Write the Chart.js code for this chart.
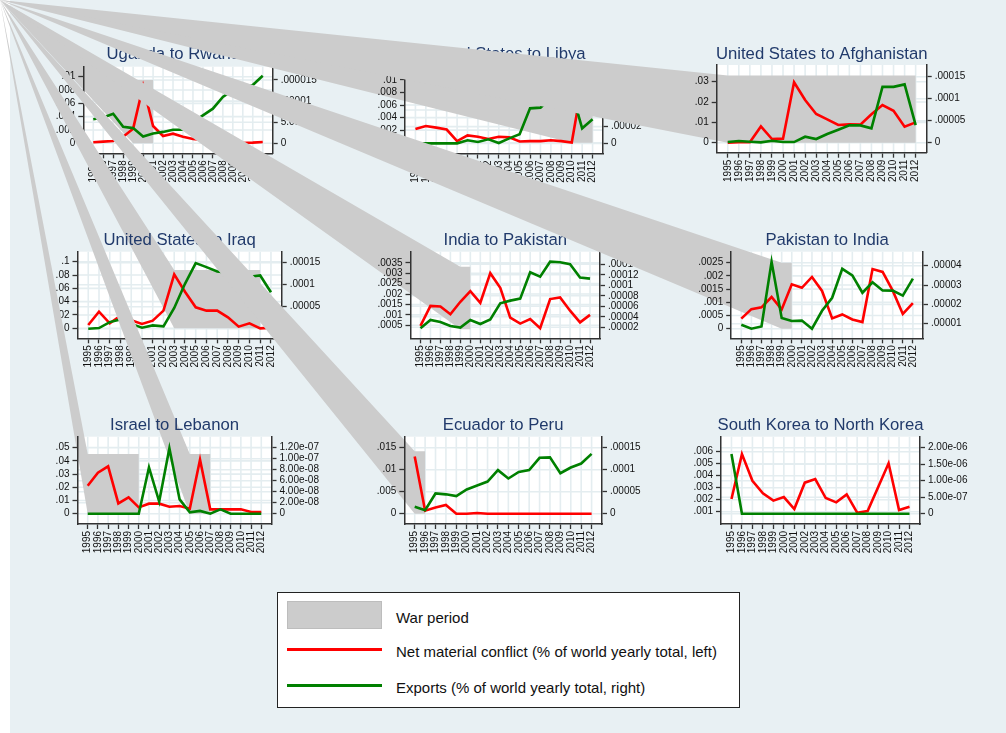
<!DOCTYPE html>
<html>
<head>
<meta charset="utf-8">
<script src="https://cdn.jsdelivr.net/npm/chart.js@4.4.0/dist/chart.umd.min.js"></script>
<style>
    html, body { margin: 0; padding: 0; overflow: hidden; background: #fff; width: 1006px; height: 733px; }
    #fundo { position: absolute; left: 10px; top: 0; width: 996px; height: 733px; background: #e8f0f3; }
    canvas { position: absolute; left: 0; top: 0; }
    #legenda { position: absolute; left: 277px; top: 592px; width: 463px; height: 116px; box-sizing: border-box;
               background: #fff; border: 1px solid #222; z-index: 20;
               font: 15px "Liberation Sans", Arial, sans-serif; color: #111; }
    .amostra { position: absolute; left: 9px; width: 95px; }
    .rotulo { position: absolute; left: 118px; transform: translateY(-50%); white-space: nowrap; }
</style>
</head>
<body>
<div id="fundo"></div>
<div id="legenda">
    <div class="amostra" style="top:8px;height:28px;background:#cccccc;border:1px solid #bdbdbd;box-sizing:border-box;"></div>
    <div class="rotulo" style="top:24px;">War period</div>
    <div class="amostra" style="top:55px;height:3px;background:#ff0000;"></div>
    <div class="rotulo" style="top:58px;">Net material conflict (% of world yearly total, left)</div>
    <div class="amostra" style="top:91px;height:3px;background:#008000;"></div>
    <div class="rotulo" style="top:94px;">Exports (% of world yearly total, right)</div>
</div>
<script>
// --- DADOS ---
const anos = [1995, 1996, 1997, 1998, 1999, 2000, 2001, 2002, 2003, 2004, 2005, 2006, 2007, 2008, 2009, 2010, 2011, 2012];

const titulos = ['Uganda to Rwanda', 'United States to Libya', 'United States to Afghanistan',
                 'United States to Iraq', 'India to Pakistan', 'Pakistan to India',
                 'Israel to Lebanon', 'Ecuador to Peru', 'South Korea to North Korea'];

// conflito material líquido (eixo esquerdo)
const conflitoUganda = [0.00015, 0.00025, 0.00035, 0.001, 0.0022, 0.0086, 0.0026, 0.0011, 0.00145, 0.001, 0.00065, 0.0005, 0.0003, 0.0002, 0.0001, 0.00005, 0.0001, 0.0002];
const conflitoLibia = [0.00217, 0.00265, 0.0024, 0.0021, 0.00026, 0.00116, 0.00095, 0.0006, 0.00095, 0.00085, 0.0002, 0.00026, 0.00026, 0.0004, 0.00026, 0.00005, 0.0095, 0.0056];
const conflitoAfeg = [0, 0.0002, 0.0002, 0.008, 0.0018, 0.002, 0.0297, 0.021, 0.0141, 0.0115, 0.0087, 0.009, 0.0089, 0.014, 0.0185, 0.0157, 0.0079, 0.01];
const conflitoIraque = [0.005, 0.025, 0.0075, 0.019, 0.012, 0.0065, 0.0115, 0.0265, 0.081, 0.055, 0.0315, 0.0265, 0.0265, 0.0165, 0.0025, 0.0075, 0, 0.001];
const conflitoIndPak = [0.00047, 0.00143, 0.0014, 0.00103, 0.00163, 0.00214, 0.00158, 0.003, 0.0023, 0.00087, 0.00058, 0.0008, 0.00036, 0.00176, 0.00184, 0.0012, 0.00064, 0.001];
const conflitoPakInd = [0.00038, 0.00074, 0.00081, 0.0012, 0.00073, 0.00168, 0.00155, 0.00196, 0.00143, 0.00039, 0.00054, 0.00035, 0.00025, 0.00226, 0.00215, 0.00144, 0.00056, 0.00097];
const conflitoIsrael = [0.0212, 0.031, 0.0359, 0.0078, 0.0124, 0.0048, 0.0076, 0.0076, 0.0053, 0.0058, 0.0038, 0.0409, 0.0033, 0.0033, 0.0033, 0.0033, 0.0013, 0.0013];
const conflitoEquador = [0.013, 0.0007, 0.0014, 0.002, 0, 0, 0.00015, 0, 0, 0, 0, 0, 0, 0, 0, 0, 0, 0];
const conflitoCoreia = [0.00206, 0.0058, 0.00358, 0.00253, 0.00192, 0.00222, 0.00122, 0.00342, 0.00372, 0.00214, 0.00178, 0.00244, 0.00092, 0.00106, 0.00303, 0.00503, 0.00114, 0.00142];

// exportações (eixo direito)
const exportUganda = [5.7e-6, 6.1e-6, 7.0e-6, 3.9e-6, 3.6e-6, 1.6e-6, 2.3e-6, 2.7e-6, 3.2e-6, 3.2e-6, 5.0e-6, 6.6e-6, 8.2e-6, 11.0e-6, 12.6e-6, 13.0e-6, 13.8e-6, 16.0e-6];
const exportLibia = [0, 0, 0, 0, 0, 3.6e-6, 1.6e-6, 4.8e-6, 0.4e-6, 6e-6, 10.8e-6, 42e-6, 42.8e-6, 54e-6, 68e-6, 62e-6, 18e-6, 28.8e-6];
const exportAfeg = [1.5e-6, 3.8e-6, 2.3e-6, 0.8e-6, 4.5e-6, 1.5e-6, 1.5e-6, 13.6e-6, 8.3e-6, 19.7e-6, 29.5e-6, 39.4e-6, 39.4e-6, 32.6e-6, 127e-6, 127e-6, 132.6e-6, 40e-6];
const exportIraque = [0, 1.5e-6, 15e-6, 21e-6, 11e-6, 2.3e-6, 7.6e-6, 5.3e-6, 47e-6, 102e-6, 149e-6, 140e-6, 130e-6, 127e-6, 122e-6, 118e-6, 121e-6, 83e-6];
const exportIndPak = [1.8e-5, 3.4e-5, 3.0e-5, 2.25e-5, 1.94e-5, 3.4e-5, 2.63e-5, 3.5e-5, 6.57e-5, 7.08e-5, 7.46e-5, 12.48e-5, 11.65e-5, 14.5e-5, 14.38e-5, 14e-5, 11.5e-5, 11.27e-5];
const exportPakInd = [9.5e-6, 7.4e-6, 8.6e-6, 42e-6, 12.9e-6, 11.4e-6, 11.6e-6, 7.4e-6, 16.7e-6, 23.4e-6, 38.4e-6, 35e-6, 26e-6, 31.4e-6, 27.2e-6, 27.1e-6, 24.5e-6, 33.3e-6];
const exportIsrael = [0, 0, 0, 0, 0, 0, 8.4e-8, 2.2e-8, 11.9e-8, 2.6e-8, 0.24e-8, 0.5e-8, 0, 0.8e-8, 0, 0, 0, 0];
const exportEquador = [1.6e-5, 0.8e-5, 4.6e-5, 4.4e-5, 4.0e-5, 5.5e-5, 6.4e-5, 7.3e-5, 9.9e-5, 8.0e-5, 9.5e-5, 9.9e-5, 12.7e-5, 12.8e-5, 9.2e-5, 10.5e-5, 11.4e-5, 13.6e-5];
const exportCoreia = [1.81e-6, 0, 0, 0, 0, 0, 0, 0, 0, 0, 0, 0, 0, 0, 0, 0, 0, 0];

// períodos de guerra [início, fim] e altura da faixa (topo / base no eixo esquerdo)
const guerras = [[[1999, 2001]], [[2010, 2012]], [[1995, 2012]],
                 [[2003, 2011]], [[1999, 2000]], [[1999, 2000]],
                 [[1995, 2000], [2005, 2007]], [[1995, 1996]], []];
const topoGuerra = [0.0095, 0.01045, 0.033, 0.0875, 0.00331, 0.0025, 0.0452, 0.0142, 0];
const baseGuerra = [0, 0, 0, 0, 0.00031, 0, 0, 0, 0];

// marcas dos eixos
const ticksEsq = [
    [0, 0.002, 0.004, 0.006, 0.008, 0.01], [0, 0.002, 0.004, 0.006, 0.008, 0.01], [0, 0.01, 0.02, 0.03],
    [0, 0.02, 0.04, 0.06, 0.08, 0.1], [0.0005, 0.001, 0.0015, 0.002, 0.0025, 0.003, 0.0035], [0, 0.0005, 0.001, 0.0015, 0.002, 0.0025],
    [0, 0.01, 0.02, 0.03, 0.04, 0.05], [0, 0.005, 0.01, 0.015], [0.001, 0.002, 0.003, 0.004, 0.005, 0.006]];
const rotulosEsq = [
    ['0', '.002', '.004', '.006', '.008', '.01'], ['0', '.002', '.004', '.006', '.008', '.01'], ['0', '.01', '.02', '.03'],
    ['0', '.02', '.04', '.06', '.08', '.1'], ['.0005', '.001', '.0015', '.002', '.0025', '.003', '.0035'], ['0', '.0005', '.001', '.0015', '.002', '.0025'],
    ['0', '.01', '.02', '.03', '.04', '.05'], ['0', '.005', '.01', '.015'], ['.001', '.002', '.003', '.004', '.005', '.006']];
const ticksDir = [
    [0, 5e-6, 1e-5, 1.5e-5], [0, 2e-5, 4e-5, 6e-5, 8e-5], [0, 5e-5, 1e-4, 1.5e-4],
    [0, 5e-5, 1e-4, 1.5e-4], [2e-5, 4e-5, 6e-5, 8e-5, 1e-4, 1.2e-4, 1.4e-4], [1e-5, 2e-5, 3e-5, 4e-5],
    [0, 2e-8, 4e-8, 6e-8, 8e-8, 1e-7, 1.2e-7], [0, 5e-5, 1e-4, 1.5e-4], [0, 5e-7, 1e-6, 1.5e-6, 2e-6]];
const rotulosDir = [
    ['0', '5.0e-06', '.00001', '.000015'], ['0', '.00002', '.00004', '.00006', '.00008'], ['0', '.00005', '.0001', '.00015'],
    ['0', '.00005', '.0001', '.00015'], ['.00002', '.00004', '.00006', '.00008', '.0001', '.00012', '.00014'], ['.00001', '.00002', '.00003', '.00004'],
    ['0', '2.00e-08', '4.00e-08', '6.00e-08', '8.00e-08', '1.00e-07', '1.20e-07'], ['0', '.00005', '.0001', '.00015'], ['0', '5.00e-07', '1.00e-06', '1.50e-06', '2.00e-06']];

const conflitos = [conflitoUganda, conflitoLibia, conflitoAfeg, conflitoIraque, conflitoIndPak, conflitoPakInd, conflitoIsrael, conflitoEquador, conflitoCoreia];
const exportacoes = [exportUganda, exportLibia, exportAfeg, exportIraque, exportIndPak, exportPakInd, exportIsrael, exportEquador, exportCoreia];

// --- LAYOUT (posição de cada painel na página) ---
const LARG = 1006, ALT = 733;
const LARG_ESQ = 50, LARG_DIR = 70, ALT_X = 40;
const caixas = [
    { L: 83.3, R: 272.7, T: 66.7, B: 153.3, tY: 54.5 },
    { L: 405, R: 603, T: 73.5, B: 153.5, tY: 54.5 },
    { L: 716.7, R: 926.7, T: 65, B: 152.7, tY: 54.5 },
    { L: 77.5, R: 281.7, T: 251.7, B: 338.3, tY: 240 },
    { L: 410.5, R: 600, T: 251.7, B: 338.3, tY: 240 },
    { L: 731.2, R: 923, T: 251.7, B: 338.3, tY: 240 },
    { L: 77.5, R: 271.5, T: 436.7, B: 524, tY: 425.7 },
    { L: 404.3, R: 602, T: 436.7, B: 524, tY: 425.7 },
    { L: 721, R: 920, T: 436.7, B: 524, tY: 425.7 }];
const limites = [
    { y: [-0.0015, 0.0115], y1: [-2.37e-6, 1.815e-5] },
    { y: [-0.00171, 0.01101], y1: [-1.22e-5, 8.38e-5] },
    { y: [-0.00492, 0.0382], y1: [-2.27e-5, 1.766e-4] },
    { y: [-0.015, 0.115], y1: [-2.18e-5, 1.75e-4] },
    { y: [-0.000123, 0.00403], y1: [-0.95e-6, 1.64e-4] },
    { y: [-0.000364, 0.002917], y1: [2.45e-6, 4.724e-5] },
    { y: [-0.0078, 0.0583], y1: [-1.873e-8, 1.4e-7] },
    { y: [-0.00234, 0.0175], y1: [-2.34e-5, 1.75e-4] },
    { y: [-0.000025, 0.00725], y1: [-3.12e-7, 2.333e-6] }];

Chart.defaults.font.family = '"Liberation Sans", Arial, sans-serif';
Chart.defaults.font.size = 10;
Chart.defaults.color = '#111';

// fundo branco, grade, faixa de guerra (com o vértice no canto da figura) e título
const pluginPainel = {
    id: 'painel',
    beforeDraw(chart, args, opts) {
        const { ctx, chartArea: a, scales } = chart;
        ctx.save();
        ctx.fillStyle = '#fff';
        ctx.fillRect(a.left, a.top, a.right - a.left, a.bottom - a.top);
        ctx.strokeStyle = '#e4edf0';
        ctx.lineWidth = 1.6;
        ctx.beginPath();
        scales.x.ticks.forEach(t => {
            const px = scales.x.getPixelForValue(t.value);
            ctx.moveTo(px, a.top); ctx.lineTo(px, a.bottom);
        });
        [scales.y, scales.y1].forEach(s => s.ticks.forEach(t => {
            const py = s.getPixelForValue(t.value);
            ctx.moveTo(a.left, py); ctx.lineTo(a.right, py);
        }));
        ctx.stroke();

        ctx.fillStyle = '#cccccc';
        opts.guerras.forEach(([ini, fim]) => {
            const x0 = scales.x.getPixelForValue(ini);
            const x1 = scales.x.getPixelForValue(fim);
            const yt = scales.y.getPixelForValue(opts.topo);
            const yb = scales.y.getPixelForValue(opts.base);
            ctx.beginPath();
            ctx.moveTo(0, 0);
            ctx.lineTo(x0, yt);
            ctx.lineTo(x1, yt);
            ctx.lineTo(x1, yb);
            ctx.lineTo(x0, yb);
            ctx.closePath();
            ctx.fill();
        });
        ctx.restore();
    },
    beforeDatasetsDraw(chart, args, opts) {
        const { ctx, chartArea: a } = chart;
        ctx.save();
        ctx.font = '16.7px "Liberation Sans", Arial, sans-serif';
        ctx.fillStyle = '#213a6b';
        ctx.textAlign = 'center';
        ctx.textBaseline = 'middle';
        ctx.fillText(opts.titulo, (a.left + a.right) / 2, opts.tituloY);
        ctx.restore();
    }
};

function eixoY(pos, lim, ticks, rotulos, largura) {
    return {
        type: 'linear', position: pos, min: lim[0], max: lim[1],
        afterBuildTicks: s => { s.ticks = ticks.map(v => ({ value: v })); },
        afterFit: s => { s.width = largura; },
        ticks: { callback: (v, i) => rotulos[i], padding: 3, autoSkip: false },
        grid: { drawOnChartArea: false, tickLength: 5, tickColor: '#333', tickWidth: 1.3 },
        border: { color: '#333', width: 1.5 }
    };
}

function criarPainel(i) {
    const cv = document.createElement('canvas');
    cv.width = LARG; cv.height = ALT;
    cv.style.zIndex = i + 1;
    document.body.appendChild(cv);
    const c = caixas[i];

    new Chart(cv.getContext('2d'), {
        type: 'line',
        data: {
            datasets: [{
                label: 'Exports',
                data: anos.map((a, k) => ({ x: a, y: exportacoes[i][k] })),
                yAxisID: 'y1', borderColor: '#008000', borderWidth: 2.6,
                pointRadius: 0, tension: 0, fill: false
            }, {
                label: 'Net material conflict',
                data: anos.map((a, k) => ({ x: a, y: conflitos[i][k] })),
                yAxisID: 'y', borderColor: '#ff0000', borderWidth: 2.6,
                pointRadius: 0, tension: 0, fill: false
            }]
        },
        options: {
            responsive: false, animation: false, events: [],
            layout: { padding: { left: c.L - LARG_ESQ, right: LARG - c.R - LARG_DIR, top: c.T, bottom: ALT - c.B - ALT_X } },
            plugins: {
                legend: { display: false },
                tooltip: { enabled: false },
                painel: { titulo: titulos[i], tituloY: c.tY, guerras: guerras[i], topo: topoGuerra[i], base: baseGuerra[i] }
            },
            scales: {
                x: {
                    type: 'linear', min: 1994, max: 2013,
                    afterBuildTicks: s => { s.ticks = anos.map(v => ({ value: v })); },
                    afterFit: s => { s.height = ALT_X; },
                    ticks: { callback: v => String(v), minRotation: 90, maxRotation: 90, autoSkip: false, padding: 2 },
                    grid: { drawOnChartArea: false, tickLength: 5, tickColor: '#333', tickWidth: 1.3 },
                    border: { color: '#333', width: 1.5 }
                },
                y: eixoY('left', limites[i].y, ticksEsq[i], rotulosEsq[i], LARG_ESQ),
                y1: eixoY('right', limites[i].y1, ticksDir[i], rotulosDir[i], LARG_DIR)
            }
        },
        plugins: [pluginPainel]
    });
}

window.onload = function() {
    for (let i = 0; i < titulos.length; i++) criarPainel(i);
};
</script>
</body>
</html>
